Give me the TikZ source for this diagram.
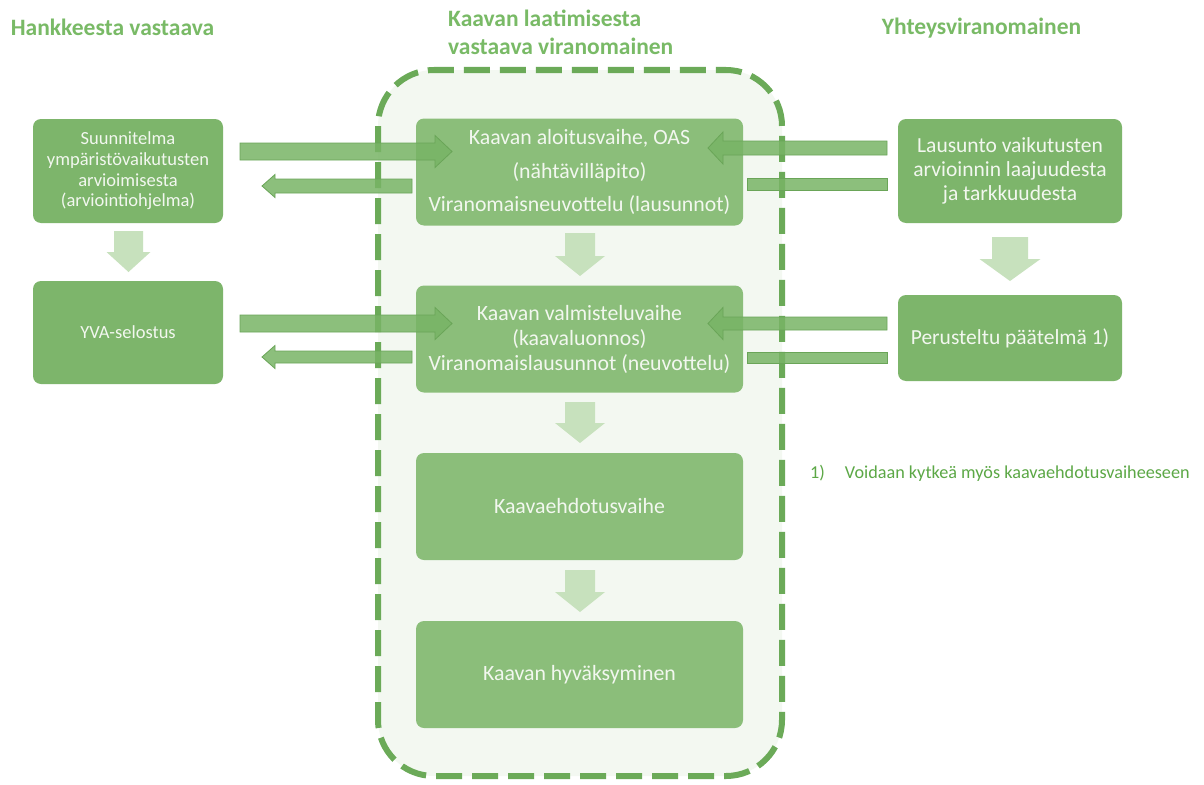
\documentclass[tikz,border=0pt]{standalone}
\usepackage{fontspec}
\setmainfont{Carlito}
\usetikzlibrary{calc}
\definecolor{boxg}{HTML}{7DB56B}
\definecolor{cboxg}{HTML}{8BBE7A}
\definecolor{dashg}{HTML}{6BAA58}
\definecolor{innerg}{HTML}{F3F8F1}
\definecolor{downg}{HTML}{C7E1BD}
\definecolor{harrowg}{HTML}{78B466}
\definecolor{harrowd}{HTML}{6AA558}
\definecolor{titleg}{HTML}{79BA66}
\definecolor{noteg}{HTML}{5CA846}
\definecolor{boxtext}{HTML}{F2F7EF}
\tikzset{
  sidebox/.style={rectangle, rounded corners=8pt, fill=boxg, text=boxtext, align=center, inner sep=0pt},
  midbox/.style={rectangle, rounded corners=8pt, fill=cboxg, text=boxtext, align=center, inner sep=0pt,
    minimum width=327pt, minimum height=107pt},
  titletext/.style={text=titleg, font=\bfseries\fontsize{23.5}{28}\selectfont, inner sep=0pt},
  downarrow/.style={fill=downg, draw=none},
  harrow/.style={fill=harrowg, draw=harrowd, line width=0.8pt, fill opacity=0.85},
}
% right-pointing arrow: x0, xtip, yc, shaft half, head half, head length
\newcommand\RArrow[6]{\path[harrow] (#1,#3-#4) -- (#2-#6,#3-#4) -- (#2-#6,#3-#5) -- (#2,#3) -- (#2-#6,#3+#5) -- (#2-#6,#3+#4) -- (#1,#3+#4) -- cycle;}
% left-pointing arrow: x0, xtip, yc, shaft half, head half, head length
\newcommand\LArrow[6]{\path[harrow] (#1,#3-#4) -- (#2+#6,#3-#4) -- (#2+#6,#3-#5) -- (#2,#3) -- (#2+#6,#3+#5) -- (#2+#6,#3+#4) -- (#1,#3+#4) -- cycle;}
% down arrow: xc, ytop, yshaftend, ytip, shaft half, head half
\newcommand\DArrow[6]{\path[downarrow] (#1-#5,#2) -- (#1+#5,#2) -- (#1+#5,#3) -- (#1+#6,#3) -- (#1,#4) -- (#1-#6,#3) -- (#1-#5,#3) -- cycle;}
\begin{document}
\begin{tikzpicture}[x=1pt,y=-1pt]
\path[use as bounding box, fill=white] (0,0) rectangle (1204,784);

% titles
\node[titletext] (t1) at (112.5,27) {Hankkeesta vastaava};
\node[titletext, anchor=west, align=left] (t2) at (448,32) {Kaavan laatimisesta\\vastaava viranomainen};
\node[titletext] (t3) at (981.5,28) {Yhteysviranomainen};

% dashed area
\draw[fill=innerg, draw=dashg, line width=6pt, dash pattern=on 26pt off 10pt, rounded corners=56pt] (378,70) rectangle (782,776);

% centre boxes
\node[midbox, font=\fontsize{21.8}{33.5}\selectfont] (c1) at (579.5,172) {Kaavan aloitusvaihe, OAS\\(nähtävilläpito)\\Viranomaisneuvottelu (lausunnot)};
\node[midbox, font=\fontsize{21.8}{25}\selectfont] (c2) at (579.5,339) {Kaavan valmisteluvaihe\\(kaavaluonnos)\\Viranomaislausunnot (neuvottelu)};
\node[midbox, font=\fontsize{21.8}{25}\selectfont] (c3) at (579.5,506.5) {Kaavaehdotusvaihe};
\node[midbox, font=\fontsize{21.8}{25}\selectfont] (c4) at (579.5,674.5) {Kaavan hyväksyminen};

% left boxes
\node[sidebox, minimum width=190pt, minimum height=104pt, font=\fontsize{18.5}{20.7}\selectfont] (l1) at (128,171) {Suunnitelma\\ympäristövaikutusten\\arvioimisesta\\(arviointiohjelma)};
\node[sidebox, minimum width=190pt, minimum height=103pt, font=\fontsize{18.5}{20}\selectfont] (l2) at (128,332.5) {YVA-selostus};

% right boxes
\node[sidebox, minimum width=224pt, minimum height=104pt, font=\fontsize{21.5}{24}\selectfont] (r1) at (1010,171) {Lausunto vaikutusten\\arvioinnin laajuudesta\\ja tarkkuudesta};
\node[sidebox, minimum width=224pt, minimum height=86pt, font=\fontsize{21.5}{24}\selectfont] (r2) at (1010,338) {Perusteltu päätelmä 1)};

% down arrows
\DArrow{128.5}{231}{252}{272}{14.5}{22}
\DArrow{580}{233}{256}{276}{15}{25}
\DArrow{580}{402}{423}{443}{15}{25}
\DArrow{580}{570}{592}{612}{15}{25}
\DArrow{1010}{237}{259}{281}{18}{30.5}

% horizontal arrows, row 1
\RArrow{240}{452}{151.5}{8.5}{16}{17}
\LArrow{412}{262}{186}{7}{11.5}{13}
\LArrow{887}{708}{148}{7}{16}{15}
\path[harrow] (747,178) rectangle (887,190);
% horizontal arrows, row 2
\RArrow{240}{452}{323.5}{8.5}{16}{17}
\LArrow{412}{262}{357}{6}{11.5}{13}
\LArrow{887}{708}{323.5}{6.5}{16}{15}
\path[harrow] (747,352) rectangle (887,363);

% footnote
\node[anchor=west, text=noteg, inner sep=0pt, font=\fontsize{18.2}{20}\selectfont] (fn) at (810,473) {1)\hspace{1.1em}Voidaan kytkeä myös kaavaehdotusvaiheeseen};
\end{tikzpicture}
\end{document}
